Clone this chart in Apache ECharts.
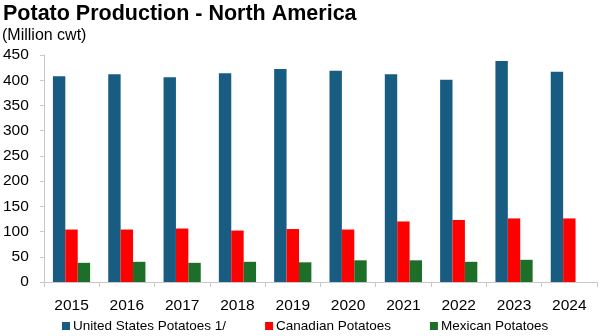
<!DOCTYPE html>
<html><head><meta charset="utf-8">
<script src="https://cdn.jsdelivr.net/npm/echarts@6/dist/echarts.min.js"></script>
<style>html,body{margin:0;padding:0;background:#fff}#c{width:600px;height:336px}</style>
</head><body><div id="c"></div>
<script>
const categories = ['2015','2016','2017','2018','2019','2020','2021','2022','2023','2024'];
const usPotatoes = [408, 412, 406, 414, 422, 419, 412, 401, 438, 417];
const canadianPotatoes = [104, 104, 106, 102, 105, 104, 120, 123, 126, 126];
const mexicanPotatoes = [38, 40, 38, 40, 39, 43, 43, 40, 44, null];
const yTicks = {min: 0, max: 450, interval: 50};

const font = 'Liberation Sans';
const chart = echarts.init(document.getElementById('c'));
chart.setOption({
  animation: false,
  title: [
    {text: 'Potato Production - North America', left: 3, top: 3, padding: 0,
     textStyle: {fontFamily: font, fontWeight: 'bold', fontSize: 21.5, color: '#000'}},
    {text: '(Million cwt)', left: 2, top: 28, padding: 0,
     textStyle: {fontFamily: font, fontWeight: 'normal', fontSize: 16, color: '#000'}}
  ],
  legend: {
    left: 57, top: 314, itemWidth: 8, itemHeight: 8, itemGap: 39, icon: 'rect',
    textStyle: {fontFamily: font, fontSize: 13.5, color: '#000', padding: [0,0,0,-2]},
    data: ['United States Potatoes 1/', 'Canadian Potatoes', 'Mexican Potatoes']
  },
  grid: {left: 43, right: 3, top: 55, bottom: 54, containLabel: false},
  xAxis: {
    type: 'category', data: categories,
    axisLine: {lineStyle: {color: '#c8c8c8'}},
    axisTick: {show: true, length: 5, lineStyle: {color: '#c8c8c8'}},
    axisLabel: {fontFamily: font, fontSize: 15.5, color: '#000', margin: 16}
  },
  yAxis: {
    type: 'value', min: yTicks.min, max: yTicks.max, interval: yTicks.interval,
    axisLine: {show: true, lineStyle: {color: '#c8c8c8'}},
    axisTick: {show: true, length: 4, lineStyle: {color: '#c8c8c8'}},
    splitLine: {show: false},
    axisLabel: {fontFamily: font, fontSize: 15.5, color: '#000', margin: 15}
  },
  series: [
    {name: 'United States Potatoes 1/', type: 'bar', data: usPotatoes, barWidth: 12.4, barGap: '0%', itemStyle: {color: '#185c82'}},
    {name: 'Canadian Potatoes', type: 'bar', data: canadianPotatoes, barWidth: 12.4, barGap: '0%', itemStyle: {color: '#ff0000'}},
    {name: 'Mexican Potatoes', type: 'bar', data: mexicanPotatoes, barWidth: 12.4, barGap: '0%', itemStyle: {color: '#1d6e28'}}
  ]
});
</script></body></html>
